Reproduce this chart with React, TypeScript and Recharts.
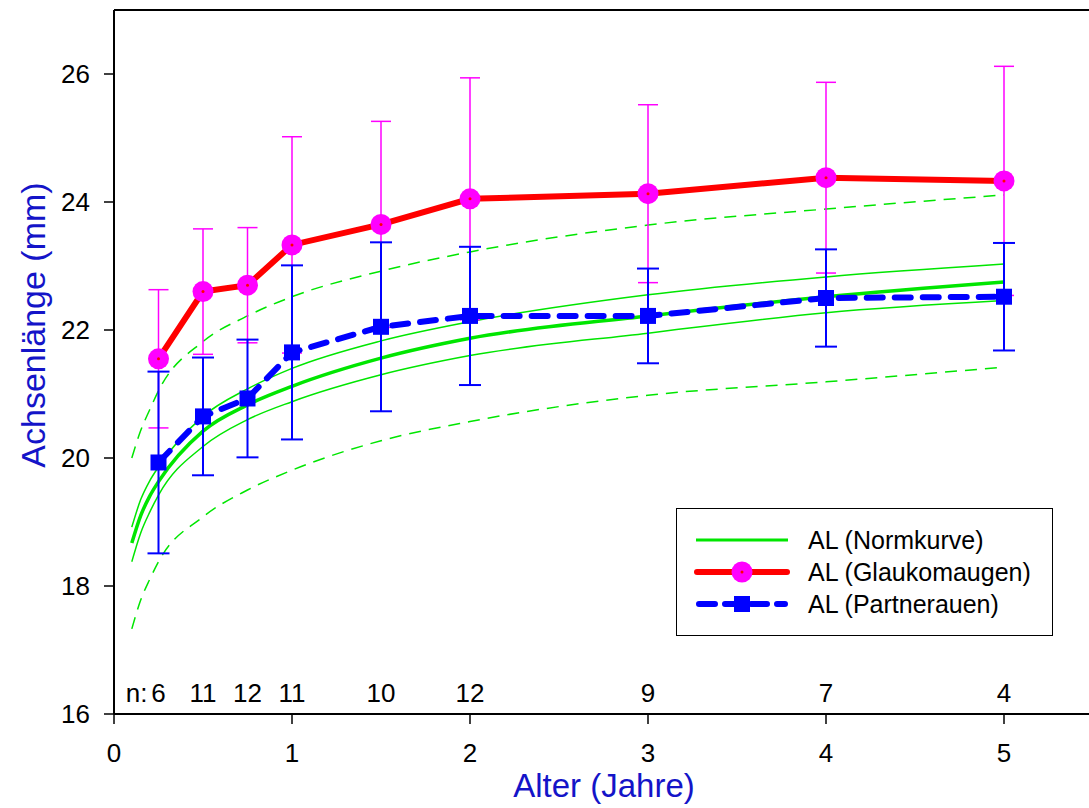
import React from 'react';
import {
  ComposedChart,
  Line,
  Scatter,
  XAxis,
  YAxis,
  ErrorBar,
  ReferenceLine,
  Label,
} from 'recharts';

// Messpunkte (Alter in Jahren)
const ageYears = [0.25, 0.5, 0.75, 1, 1.5, 2, 3, 4, 5];
const glaukomMean = [21.55, 22.6, 22.7, 23.33, 23.65, 24.05, 24.13, 24.38, 24.33];
const glaukomSD = [1.08, 0.98, 0.9, 1.69, 1.61, 1.89, 1.39, 1.49, 1.79];
const partnerMean = [19.93, 20.65, 20.93, 21.65, 22.05, 22.22, 22.22, 22.5, 22.52];
const partnerSD = [1.42, 0.92, 0.92, 1.36, 1.32, 1.08, 0.74, 0.76, 0.84];
const nCounts = [6, 11, 12, 11, 10, 12, 9, 7, 4];

// Normkurve (Mittelwert, innere und äußere Grenzen)
const normX = [0.1, 0.15, 0.2, 0.25, 0.5, 0.75, 1, 1.5, 2, 3, 4, 5];
const normMean = [18.67, 19.1, 19.4, 19.63, 20.42, 20.83, 21.12, 21.56, 21.87, 22.22, 22.52, 22.75];
const normUpper1 = [18.92, 19.35, 19.64, 19.86, 20.65, 21.08, 21.4, 21.83, 22.13, 22.55, 22.83, 23.03];
const normLower1 = [18.38, 18.83, 19.15, 19.42, 20.18, 20.6, 20.88, 21.3, 21.6, 21.95, 22.27, 22.46];
const normUpper2 = [20.0, 20.43, 20.75, 21.05, 21.82, 22.22, 22.52, 22.92, 23.22, 23.64, 23.89, 24.11];
const normLower2 = [17.33, 17.78, 18.1, 18.38, 19.08, 19.5, 19.81, 20.27, 20.57, 20.98, 21.19, 21.42];

const xTicks = [0, 1, 2, 3, 4, 5];
const yTicks = [16, 18, 20, 22, 24, 26];
const legendNames = ['AL (Normkurve)', 'AL (Glaukomaugen)', 'AL (Partnerauen)'];

const GREEN = '#00e600';
const RED = '#ff0000';
const MAGENTA = '#ff00ff';
const BLUE = '#0000ff';
const TITLE_BLUE = '#1414c8';

const glaukomData = ageYears.map((x, i) => ({ x, y: glaukomMean[i], sd: glaukomSD[i] }));
const partnerData = ageYears.map((x, i) => ({ x, y: partnerMean[i], sd: partnerSD[i] }));
const nData = ageYears.map((x, i) => ({ x, y: 16.33, n: nCounts[i] }));
const normData = normX.map((x, i) => ({
  x,
  mean: normMean[i],
  up1: normUpper1[i],
  lo1: normLower1[i],
  up2: normUpper2[i],
  lo2: normLower2[i],
}));

const CircleDot = (props: any) => {
  const { cx, cy, index } = props;
  return (
    <g key={`gl-${index}`}>
      <circle cx={cx} cy={cy} r={10.5} fill={MAGENTA} />
      <circle cx={cx} cy={cy} r={1.5} fill={RED} />
    </g>
  );
};

const SquareDot = (props: any) => {
  const { cx, cy, index } = props;
  return <rect key={`pa-${index}`} x={cx - 8} y={cy - 8} width={16} height={16} fill={BLUE} />;
};

const CountLabel = (props: any) => {
  const { cx, cy, payload } = props;
  return (
    <g>
      {payload.x === ageYears[0] && (
        <text x={cx - 11} y={cy} dy="0.35em" textAnchor="end" fontSize={26} fill="#000">
          n:
        </text>
      )}
      <text x={cx} y={cy} dy="0.35em" textAnchor="middle" fontSize={26} fill="#000">
        {payload.n}
      </text>
    </g>
  );
};

const LegendBox = () => (
  <div
    style={{
      position: 'absolute',
      left: 676,
      top: 508,
      width: 377,
      height: 128,
      border: '1.5px solid #000',
      boxSizing: 'border-box',
      background: '#fff',
    }}
  >
    {legendNames.map((name, i) => (
      <div
        key={name}
        style={{ position: 'absolute', left: 0, top: 15 + i * 32, height: 32, width: '100%' }}
      >
        <svg width={96} height={32} style={{ position: 'absolute', left: 17, top: 0 }}>
          {i === 0 && <line x1={2} y1={16} x2={94} y2={16} stroke={GREEN} strokeWidth={3} />}
          {i === 1 && (
            <g>
              <line x1={3} y1={16} x2={93} y2={16} stroke={RED} strokeWidth={6} strokeLinecap="round" />
              <circle cx={48} cy={16} r={10.5} fill={MAGENTA} />
              <circle cx={48} cy={16} r={1.5} fill={RED} />
            </g>
          )}
          {i === 2 && (
            <g>
              <line
                x1={5}
                y1={16}
                x2={91}
                y2={16}
                stroke={BLUE}
                strokeWidth={6}
                strokeDasharray="16 10"
                strokeLinecap="round"
              />
              <rect x={40} y={8} width={16} height={16} fill={BLUE} />
            </g>
          )}
        </svg>
        <span
          style={{
            position: 'absolute',
            left: 131,
            top: 0,
            lineHeight: '32px',
            fontSize: 25,
            color: '#000',
            whiteSpace: 'nowrap',
          }}
        >
          {name}
        </span>
      </div>
    ))}
  </div>
);

export default function App() {
  return (
    <div
      style={{
        position: 'fixed',
        left: 0,
        top: 0,
        width: 1089,
        height: 808,
        overflow: 'hidden',
        background: '#fff',
        fontFamily: "'Liberation Sans', Arial, sans-serif",
      }}
    >
      <ComposedChart width={1100} height={808} margin={{ top: 10, right: 7, bottom: 0, left: 0 }}>
        <XAxis
          dataKey="x"
          type="number"
          domain={[0, 5.5]}
          ticks={xTicks}
          allowDataOverflow
          height={94}
          tickSize={10}
          tickMargin={20}
          axisLine={{ stroke: '#000', strokeWidth: 2 }}
          tickLine={{ stroke: '#000', strokeWidth: 1.5 }}
          tick={{ fill: '#000', fontSize: 26 }}
        >
          <Label
            content={() => (
              <text x={604} y={797} textAnchor="middle" fontSize={33} fill={TITLE_BLUE}>
                Alter (Jahre)
              </text>
            )}
          />
        </XAxis>
        <YAxis
          type="number"
          domain={[16, 27]}
          ticks={yTicks}
          allowDataOverflow
          width={114}
          tickSize={10}
          tickMargin={14}
          axisLine={{ stroke: '#000', strokeWidth: 2 }}
          tickLine={{ stroke: '#000', strokeWidth: 1.5 }}
          tick={{ fill: '#000', fontSize: 26 }}
        >
          <Label
            content={() => (
              <text
                x={45}
                y={325}
                transform="rotate(-90, 45, 325)"
                textAnchor="middle"
                fontSize={34}
                fill={TITLE_BLUE}
              >
                Achsenlänge (mm)
              </text>
            )}
          />
        </YAxis>
        <ReferenceLine y={27} stroke="#000" strokeWidth={2} />

        <Line data={normData} dataKey="up2" type="monotone" stroke={GREEN} strokeWidth={1.5} strokeDasharray="12 8" dot={false} isAnimationActive={false} />
        <Line data={normData} dataKey="lo2" type="monotone" stroke={GREEN} strokeWidth={1.5} strokeDasharray="12 8" dot={false} isAnimationActive={false} />
        <Line data={normData} dataKey="up1" type="monotone" stroke={GREEN} strokeWidth={1.5} dot={false} isAnimationActive={false} />
        <Line data={normData} dataKey="lo1" type="monotone" stroke={GREEN} strokeWidth={1.5} dot={false} isAnimationActive={false} />
        <Line data={normData} dataKey="mean" type="monotone" stroke={GREEN} strokeWidth={3.5} dot={false} isAnimationActive={false} />

        <Line
          data={glaukomData}
          dataKey="y"
          type="linear"
          stroke={RED}
          strokeWidth={6}
          dot={CircleDot}
          activeDot={false}
          isAnimationActive={false}
        >
          <ErrorBar dataKey="sd" direction="y" width={10} stroke={MAGENTA} strokeWidth={1.5} />
        </Line>

        <Line
          data={partnerData}
          dataKey="y"
          type="linear"
          stroke={BLUE}
          strokeWidth={6}
          strokeDasharray="16 12"
          strokeLinecap="round"
          dot={SquareDot}
          activeDot={false}
          isAnimationActive={false}
        >
          <ErrorBar dataKey="sd" direction="y" width={11} stroke={BLUE} strokeWidth={2} />
        </Line>

        <Scatter data={nData} dataKey="y" shape={CountLabel} isAnimationActive={false} />
      </ComposedChart>
      <LegendBox />
    </div>
  );
}
